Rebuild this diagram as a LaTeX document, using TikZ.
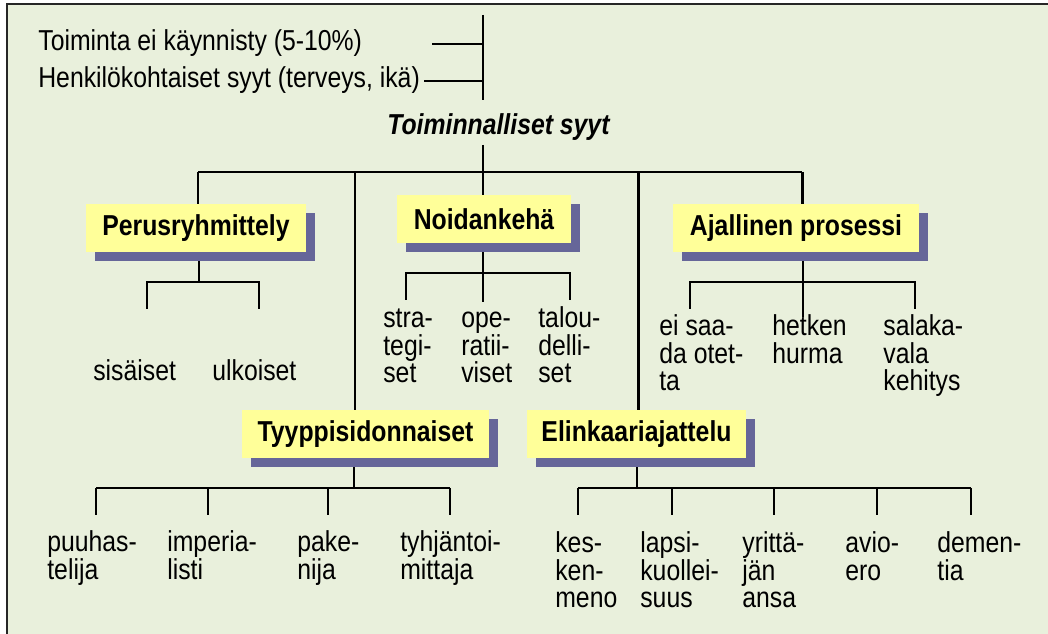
\documentclass[tikz,border=0pt]{standalone}
\usepackage{fontspec}
\setmainfont{Liberation Sans}[FakeStretch=0.86]
\usepackage{xcolor}
\usepackage{tikz}
\usetikzlibrary{shadows}

\definecolor{taustavihrea}{HTML}{E9F0DC}
\definecolor{laatikkokeltainen}{HTML}{FFFF99}
\definecolor{varjosininen}{HTML}{666699}

\newcommand{\koko}{\fontsize{16.4}{15.6}\selectfont}
\newcommand{\pino}[1]{\vtop{\baselineskip=15.6pt\lineskiplimit=-50pt\halign{##\hfil\cr#1\crcr}}}

\begin{document}
\begin{tikzpicture}[x=0.02cm, y=-0.02cm, font=\koko,
    laatikko/.style={fill=laatikkokeltainen, inner sep=0pt, minimum height=0.96cm,
        font=\koko\bfseries,
        general shadow={fill=varjosininen, shadow xshift=0.18cm, shadow yshift=-0.18cm}},
    teksti/.style={anchor=base west, inner sep=0pt},
    paksu/.style={line width=1.7pt},
    ohut/.style={line width=0.8pt}]
    \useasboundingbox (0,0) rectangle (1048,634);
    \fill[taustavihrea] (7,4) rectangle (1048,634);
    \draw[line width=1.3pt, black!85] (7,634) -- (7,4) -- (1048,4);

    % ylin taso
    \node[teksti] (kaynnisty) at (38,51) {Toiminta ei käynnisty (5-10\%)};
    \node[teksti] (henkilo) at (38,88) {Henkilökohtaiset syyt (terveys, ikä)};
    \coordinate (ylapaa) at (483,15);
    \coordinate (alapaa) at (483,100);
    \coordinate (k1) at (432,44);
    \coordinate (k2) at (424,81);
    \draw[paksu] (ylapaa) -- (alapaa);
    \draw[ohut] (k1) -- (k1 -| ylapaa);
    \draw[ohut] (k2) -- (k2 -| ylapaa);

    \node[teksti, font=\koko\bfseries\itshape] (toiminnalliset) at (387,135) {Toiminnalliset syyt};
    \coordinate (v0) at (483,145);
    \coordinate (vayla) at (483,172);
    \draw[paksu] (v0) -- (vayla);
    \draw[paksu] (198,172) -- (802,172);

    % laatikot
    \node[laatikko, minimum width=4.4cm] (perus) at (196,228) {Perusryhmittely};
    \node[laatikko, minimum width=3.48cm] (noida) at (484,219) {Noidankehä};
    \node[laatikko, minimum width=4.92cm] (ajal) at (796,228) {Ajallinen prosessi};
    \node[laatikko, minimum width=4.94cm] (tyyppi) at (365.5,434) {Tyyppisidonnaiset};
    \node[laatikko, minimum width=4.38cm] (elin) at (636.5,434) {Elinkaariajattelu};

    \foreach \x/\n in {198/perus, 355/tyyppi, 483/noida, 638/elin, 802/ajal}
        \draw[paksu] (\x,172) -- (\n.north -| \x,172);

    % Perusryhmittely
    \draw[ohut] (perus.south -| 199,0) ++(0,9) -- (199,282);
    \draw[ohut] (147,309) -- (147,282) -- (259,282) -- (259,309);
    \node[teksti] (sisaiset) at (93,381) {sisäiset};
    \node[teksti] (ulkoiset) at (212,381) {ulkoiset};

    % Noidankehä
    \draw[ohut] (noida.south -| 483,0) ++(0,9) -- (483,302);
    \draw[ohut] (406,300) -- (406,273) -- (570,273) -- (570,300);
    \node[teksti] (strat) at (383,328) {\pino{stra-\cr tegi-\cr set}};
    \node[teksti] (oper) at (461,328) {\pino{ope-\cr ratii-\cr viset}};
    \node[teksti] (talous) at (538,328) {\pino{talou-\cr delli-\cr set}};

    % Ajallinen prosessi
    \draw[ohut] (ajal.south -| 803,0) ++(0,9) -- (803,317);
    \draw[ohut] (690,309) -- (690,282) -- (915,282) -- (915,309);
    \node[teksti] (otetta) at (659,336) {\pino{ei saa-\cr da otet-\cr ta}};
    \node[teksti] (hurma) at (772,336) {\pino{hetken\cr hurma}};
    \node[teksti] (salakavala) at (883,336) {\pino{salaka-\cr vala\cr kehitys}};

    % Tyyppisidonnaiset
    \draw[ohut] (tyyppi.south -| 354,0) ++(0,9) -- (354,488);
    \draw[ohut] (96,488) -- (450,488);
    \foreach \x in {96,208,328,450}
        \draw[ohut] (\x,488) -- (\x,515);
    \node[teksti] (puuhastelija) at (47,552) {\pino{puuhas-\cr telija}};
    \node[teksti] (imperialisti) at (167,552) {\pino{imperia-\cr listi}};
    \node[teksti] (pakenija) at (297,552) {\pino{pake-\cr nija}};
    \node[teksti] (tyhjantoimittaja) at (400,552) {\pino{tyhjäntoi-\cr mittaja}};

    % Elinkaariajattelu
    \draw[ohut] (elin.south -| 637,0) ++(0,9) -- (637,489);
    \draw[ohut] (578,488) -- (971,488);
    \foreach \x in {578,672,774,877,971}
        \draw[ohut] (\x,488) -- (\x,515);
    \node[teksti] (keskenmeno) at (555,553) {\pino{kes-\cr ken-\cr meno}};
    \node[teksti] (lapsikuolleisuus) at (640,553) {\pino{lapsi-\cr kuollei-\cr suus}};
    \node[teksti] (yrittajan) at (742,553) {\pino{yrittä-\cr jän\cr ansa}};
    \node[teksti] (avioero) at (845,553) {\pino{avio-\cr ero}};
    \node[teksti] (dementia) at (937,553) {\pino{demen-\cr tia}};
\end{tikzpicture}
\end{document}
